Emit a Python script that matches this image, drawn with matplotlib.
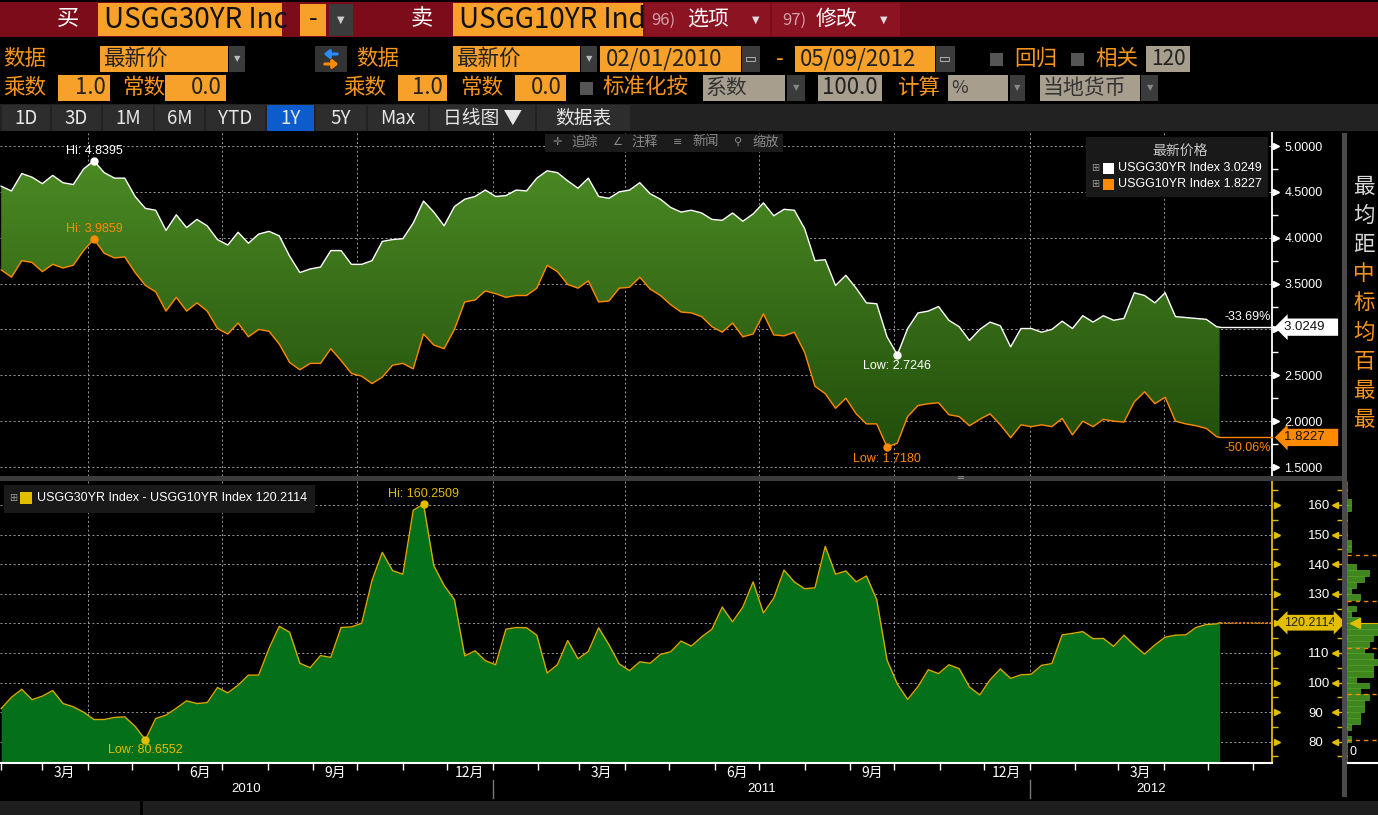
import numpy as np
import pandas as pd
import matplotlib
matplotlib.use('Agg')
import matplotlib.pyplot as plt
import matplotlib.dates as mdates
from matplotlib.patches import Rectangle, FancyArrowPatch
from matplotlib.colors import LinearSegmentedColormap
from matplotlib.ticker import MultipleLocator

# ============================================
# DATA (weekly samples)
# ============================================

dates = list(pd.date_range('2010-02-01', '2012-05-07', freq='7D')) + [pd.Timestamp('2012-05-09')]

usgg30 = [4.5617, 4.51, 4.70, 4.66, 4.59, 4.68, 4.60, 4.58, 4.75, 4.8395,
          4.71, 4.65, 4.65, 4.45, 4.32, 4.30, 4.08, 4.25, 4.11, 4.20,
          4.13, 3.98, 3.92, 4.06, 3.94, 4.04, 4.07, 4.02, 3.80, 3.62,
          3.66, 3.68, 3.86, 3.86, 3.71, 3.71, 3.75, 3.96, 3.98, 3.99,
          4.16, 4.40, 4.28, 4.13, 4.34, 4.42, 4.45, 4.52, 4.45, 4.46,
          4.52, 4.51, 4.65, 4.73, 4.71, 4.62, 4.54, 4.65, 4.45, 4.43,
          4.50, 4.52, 4.60, 4.48, 4.42, 4.33, 4.28, 4.30, 4.27, 4.20,
          4.19, 4.27, 4.18, 4.26, 4.38, 4.24, 4.31, 4.30, 4.10, 3.75,
          3.76, 3.48, 3.59, 3.45, 3.29, 3.28, 2.92, 2.7246, 3.01, 3.18,
          3.20, 3.25, 3.10, 3.03, 2.88, 3.00, 3.08, 3.04, 2.81, 3.01,
          3.01, 2.97, 3.00, 3.09, 3.01, 3.15, 3.08, 3.15, 3.10, 3.12,
          3.40, 3.37, 3.29, 3.40, 3.14, 3.13, 3.12, 3.11, 3.03, 3.0249]

usgg10 = [3.6498, 3.57, 3.75, 3.73, 3.63, 3.71, 3.67, 3.70, 3.86, 3.9859,
          3.83, 3.78, 3.79, 3.62, 3.48, 3.41, 3.20, 3.35, 3.20, 3.29,
          3.20, 3.01, 2.95, 3.07, 2.92, 3.00, 2.98, 2.84, 2.64, 2.56,
          2.63, 2.63, 2.79, 2.66, 2.52, 2.49, 2.41, 2.48, 2.61, 2.63,
          2.57, 2.95, 2.83, 2.79, 3.00, 3.30, 3.32, 3.42, 3.39, 3.35,
          3.37, 3.37, 3.45, 3.70, 3.63, 3.49, 3.45, 3.53, 3.30, 3.31,
          3.45, 3.46, 3.57, 3.44, 3.37, 3.27, 3.19, 3.18, 3.14, 3.03,
          2.97, 3.07, 2.92, 2.95, 3.17, 2.94, 2.93, 2.97, 2.75, 2.38,
          2.30, 2.14, 2.25, 2.08, 1.97, 1.97, 1.7180, 1.76, 2.05, 2.17,
          2.19, 2.20, 2.07, 2.05, 1.95, 2.02, 2.08, 1.96, 1.82, 1.96,
          1.94, 1.96, 1.94, 2.03, 1.85, 2.00, 1.94, 2.02, 2.00, 1.99,
          2.21, 2.32, 2.19, 2.26, 2.00, 1.97, 1.95, 1.92, 1.83, 1.8227]

spread = [91.19, 95.0, 97.7, 94.2, 95.4, 97.3, 92.9, 91.8, 90.0, 87.5,
          87.5, 88.2, 88.4, 85.2, 80.6552, 87.8, 89.0, 91.3, 93.8, 92.9,
          93.2, 98.3, 96.5, 99.1, 102.5, 102.5, 111.5, 119.0, 117.0, 106.5,
          105.0, 109.1, 108.5, 118.6, 118.8, 120.0, 134.5, 144.0, 137.8, 136.6,
          158.2, 160.2509, 139.5, 132.8, 128.0, 109.0, 110.7, 107.4, 106.0, 118.0,
          118.6, 118.5, 116.0, 103.2, 106.0, 114.2, 108.0, 110.5, 118.5, 112.8,
          106.3, 104.0, 107.0, 106.5, 109.5, 110.4, 114.0, 112.3, 115.4, 118.0,
          125.5, 120.5, 125.5, 134.0, 123.5, 128.5, 138.0, 134.0, 131.7, 132.0,
          146.0, 136.6, 137.7, 134.0, 136.0, 128.0, 107.6, 99.5, 94.3, 98.6,
          104.3, 103.0, 106.0, 104.7, 98.5, 95.8, 100.9, 104.6, 101.4, 102.6,
          102.8, 105.8, 106.4, 116.1, 116.6, 117.2, 114.8, 114.9, 112.2, 116.0,
          112.6, 109.6, 112.7, 115.3, 116.0, 116.1, 118.6, 119.6, 119.8, 120.2114]

top_ticks = [1.5, 2.0, 2.5, 3.0, 3.5, 4.0, 4.5, 5.0]
bot_ticks = [80, 90, 100, 110, 120, 130, 140, 150, 160]
side_chars = ['最', '均', '距', '中', '标', '均', '百', '最', '最']
buttons = ['1D', '3D', '1M', '6M', 'YTD', '1Y', '5Y', 'Max', '日线图 ▼', '数据表']

# ============================================
# STYLE
# ============================================

W, H = 1378, 815
FONT = ['Liberation Sans Narrow', 'Noto Sans CJK SC', 'DejaVu Sans']
NUM = ['Liberation Sans', 'Noto Sans CJK SC', 'DejaVu Sans']
CJK = ['Noto Sans CJK SC', 'DejaVu Sans']
SYM = ['DejaVu Sans']
plt.rcParams['font.family'] = FONT

RED = '#7c0c19'
BOX = '#f7a02a'
AMBER = '#f7961c'
BEIGE = '#a89e8e'
DROP = '#3b3b3b'
ORANGE = '#ff8a00'
YELLOW = '#e3bd00'

x = mdates.date2num(dates)
y30 = np.array(usgg30)
y10 = np.array(usgg10)
spr = np.array(spread)
t0 = mdates.date2num(pd.Timestamp('2010-02-01'))
xlo, xhi = t0 - 0.8, t0 + 863.6

fig = plt.figure(figsize=(W / 100, H / 100), dpi=100)
fig.patch.set_facecolor('black')


def fx(px):
    return px / W


def fy(py):
    return 1 - py / H


def rect(x0, y0, x1, y1, fc, z=1):
    fig.add_artist(Rectangle((fx(x0), fy(y1)), (x1 - x0) / W, (y1 - y0) / H,
                             transform=fig.transFigure, fc=fc, ec='none', zorder=z))


def label(px, py, s, color, size, ha='left', family=FONT, z=8, **kw):
    fig.text(fx(px), fy(py), s, color=color, fontsize=size, ha=ha, va='center',
             family=family, zorder=z, **kw)


def arrow(x0, x1, py, color):
    fig.add_artist(FancyArrowPatch((fx(x0), fy(py)), (fx(x1), fy(py)), transform=fig.transFigure,
                                   arrowstyle='-|>,head_length=3,head_width=2.5', lw=2.2,
                                   color=color, zorder=8))


# ============================================
# HEADER
# ============================================

rect(0, 2, W, 37, RED)
label(68, 19, '买', 'white', 16, ha='center', family=CJK)
rect(98, 3, 282, 36, BOX)
label(104, 20, 'USGG30YR Inc', '#111111', 20)
rect(300, 4, 326, 36, BOX)
label(313, 19, '-', '#111111', 18, ha='center')
rect(329, 4, 353, 36, DROP)
label(341, 20, '▼', '#cccccc', 7, ha='center', family=SYM)
label(422, 19, '卖', 'white', 16, ha='center', family=CJK)
rect(453, 3, 643, 36, BOX)
label(459, 20, 'USGG10YR Ind', '#111111', 20)
rect(645, 3, 770, 36, '#8c1322')
label(651, 20, '96)', '#d6a0a8', 12)
label(687, 19, '选项', 'white', 15, family=CJK)
label(752, 20, '▼', '#dddddd', 7, family=SYM)
rect(772, 3, 900, 36, '#8c1322')
label(782, 20, '97)', '#d6a0a8', 12)
label(816, 19, '修改', 'white', 15, family=CJK)
label(880, 20, '▼', '#dddddd', 7, family=SYM)

# second row
label(3, 59, '数据', AMBER, 15.5, family=CJK)
rect(100, 46, 228, 72, BOX)
label(103, 59, '最新价', '#222222', 15.5, family=CJK)
rect(229, 46, 245, 72, DROP)
label(237, 59, '▼', '#bbbbbb', 6, ha='center', family=SYM)
rect(315, 46, 347, 72, '#333333')
arrow(340, 321, 54, '#2a8cff')
arrow(322, 341, 64, ORANGE)
label(356, 59, '数据', AMBER, 15.5, family=CJK)
rect(453, 46, 580, 72, BOX)
label(456, 59, '最新价', '#222222', 15.5, family=CJK)
rect(581, 46, 597, 72, DROP)
label(589, 59, '▼', '#bbbbbb', 6, ha='center', family=SYM)
rect(600, 46, 741, 72, BOX)
label(606, 59, '02/01/2010', '#222222', 16)
rect(742, 46, 760, 72, DROP)
label(751, 59, '▭', '#cccccc', 9, ha='center', family=SYM)
label(780, 59, '-', AMBER, 16, ha='center')
rect(795, 46, 935, 72, BOX)
label(800, 59, '05/09/2012', '#222222', 16)
rect(936, 46, 955, 72, DROP)
label(945, 59, '▭', '#cccccc', 9, ha='center', family=SYM)
rect(990, 53, 1003, 66, '#555555')
label(1014, 59, '回归', AMBER, 15.5, family=CJK)
rect(1071, 53, 1084, 66, '#555555')
label(1095, 59, '相关', AMBER, 15.5, family=CJK)
rect(1146, 46, 1190, 72, BEIGE)
label(1168, 59, '120', '#222222', 15, ha='center')

# third row
label(3, 88, '乘数', AMBER, 15.5, family=CJK)
rect(58, 75, 110, 101, BOX)
label(106, 88, '1.0', '#222222', 16, ha='right')
label(122, 88, '常数', AMBER, 15.5, family=CJK)
rect(165, 75, 226, 101, BOX)
label(222, 88, '0.0', '#222222', 16, ha='right')
label(343, 88, '乘数', AMBER, 15.5, family=CJK)
rect(398, 75, 447, 101, BOX)
label(443, 88, '1.0', '#222222', 16, ha='right')
label(460, 88, '常数', AMBER, 15.5, family=CJK)
rect(515, 75, 566, 101, BOX)
label(562, 88, '0.0', '#222222', 16, ha='right')
rect(580, 82, 593, 95, '#555555')
label(603, 88, '标准化按', AMBER, 15.5, family=CJK)
rect(703, 75, 785, 101, BEIGE)
label(706, 88, '系数', '#333333', 15, family=CJK)
rect(787, 75, 805, 101, DROP)
label(796, 88, '▼', '#888888', 6, ha='center', family=SYM)
rect(818, 75, 882, 101, BEIGE)
label(850, 88, '100.0', '#222222', 16, ha='center')
label(897, 88, '计算', AMBER, 15.5, family=CJK)
rect(948, 75, 1008, 101, BEIGE)
label(951, 88, '%', '#333333', 13)
rect(1010, 75, 1025, 101, DROP)
label(1017, 88, '▼', '#888888', 6, ha='center', family=SYM)
rect(1040, 75, 1140, 101, BEIGE)
label(1043, 88, '当地货币', '#333333', 15, family=CJK)
rect(1141, 75, 1158, 101, DROP)
label(1150, 88, '▼', '#888888', 6, ha='center', family=SYM)

# range buttons
rect(0, 104, W, 131, '#222222')
edges = [2, 52, 103, 155, 206, 267, 316, 368, 430, 537, 630]
for i, b in enumerate(buttons):
    x0 = edges[i]
    x1 = edges[i + 1] - 2 if i < len(buttons) - 1 else edges[-1]
    if b == '数据表':
        x0 = 537
    rect(x0, 105, x1, 131, '#0c5ccc' if b == '1Y' else '#2d2d2d', z=2)
    label((x0 + x1) / 2, 118, b, '#e6e6e6', 13.5, ha='center')

# ============================================
# TOP PANEL: 30Y and 10Y yields
# ============================================

ax1 = fig.add_axes([0, fy(476), fx(1272), (476 - 133) / H])
ax1.set_facecolor('black')
ax1.plot(x, y30, color='white', lw=1.0, zorder=4)
ax1.plot(x, y10, color=ORANGE, lw=1.0, zorder=4)
ax1.plot([x[-1], xhi], [y30[-1], y30[-1]], color='white', lw=1.0, zorder=4, clip_on=False)
ax1.plot([x[-1], xhi], [y10[-1], y10[-1]], color=ORANGE, lw=1.0, zorder=4, clip_on=False)

band = ax1.fill_between(x, y10, y30, color='none', lw=0)
green = LinearSegmentedColormap.from_list('band', ['#224e0b', '#4b8a24'])
im = ax1.imshow(np.linspace(0, 1, 256).reshape(-1, 1), extent=[x[0], x[-1], 1.7, 4.85],
                origin='lower', aspect='auto', cmap=green, zorder=2)
im.set_clip_path(band.get_paths()[0], ax1.transData)
ax1.set_xlim(xlo, xhi)
ax1.set_ylim(1.402, 5.142)

ax1.xaxis.set_major_locator(mdates.MonthLocator(bymonth=[1, 4, 7, 10]))
ax1.xaxis.set_minor_locator(mdates.MonthLocator())
ax1.tick_params(axis='x', which='both', length=0, labelbottom=False)
ax1.yaxis.tick_right()
# the last-value tags cover the tick label they sit on
ax1.set_yticks(top_ticks, [f'{t:.4f}' if min(abs(t - y30[-1]), abs(t - y10[-1])) > 0.1 else ''
                           for t in top_ticks])
ax1.yaxis.set_minor_locator(MultipleLocator(0.25))
ax1.tick_params(axis='y', which='major', length=0, pad=9, labelcolor='white', labelsize=9)
ax1.tick_params(axis='y', which='minor', length=4, width=1, color='white')
for t in ax1.get_yticklabels():
    t.set_family(NUM)
ax1.grid(True, which='major', color='#9a9a9a', ls=(0, (2, 2.5)), lw=0.7)
for s in ['left', 'top', 'bottom']:
    ax1.spines[s].set_visible(False)
ax1.spines['right'].set_color('white')
ax1.spines['right'].set_linewidth(1.3)
ax1.plot(np.full(len(top_ticks), 1.003), top_ticks, ls='none', marker='>', ms=5,
         color='white', transform=ax1.get_yaxis_transform(), clip_on=False)

# high / low markers
for ser, col in [(y30, 'white'), (y10, ORANGE)]:
    i = int(np.argmax(ser))
    ax1.plot(x[i], ser[i], 'o', color=col, ms=5, zorder=6)
    ax1.annotate(f'Hi: {ser[i]:.4f}', (x[i], ser[i]), xytext=(0, 3), textcoords='offset points',
                 ha='center', va='bottom', color=col, fontsize=9, family=NUM, zorder=6)
    j = int(np.argmin(ser))
    ax1.plot(x[j], ser[j], 'o', color=col, ms=5, zorder=6)
    ax1.annotate(f'Low: {ser[j]:.4f}', (x[j], ser[j]), xytext=(0, -4), textcoords='offset points',
                 ha='center', va='top', color=col, fontsize=9, family=NUM, zorder=6)

# change since start and last-value tags
for ser, col, dy, va, fc in [(y30, 'white', 3, 'bottom', 'white'), (y10, ORANGE, -3, 'top', ORANGE)]:
    pct = (ser[-1] / ser[0] - 1) * 100
    ax1.annotate(f'{pct:.2f}%', (xhi, ser[-1]), xytext=(-1, dy), textcoords='offset points',
                 ha='right', va=va, color=col, fontsize=9, family=NUM)
    ax1.text(1.0095, ser[-1], f'{ser[-1]:.4f}   ', transform=ax1.get_yaxis_transform(),
             ha='left', va='center', color='#111111', fontsize=9.5, family=NUM, clip_on=False,
             zorder=7, bbox=dict(boxstyle='larrow,pad=0.2', fc=fc, ec='none'))

# ============================================
# BOTTOM PANEL: spread
# ============================================

ax2 = fig.add_axes([0, fy(763), fx(1272), (763 - 481) / H])
ax2.set_facecolor('black')
ax2.fill_between(x, spr, 0, color='#05701a', lw=0, zorder=2)
ax2.plot(x, spr, color='#d6aa00', lw=1, zorder=3)
ax2.plot([x[-1], xhi], [spr[-1], spr[-1]], color=ORANGE, lw=1.1, ls=(0, (1.5, 1)), zorder=3)
ax2.set_xlim(xlo, xhi)
ax2.set_ylim(72.8, 168.1)

ax2.xaxis.set_major_locator(mdates.MonthLocator(bymonth=[1, 4, 7, 10]))
ax2.xaxis.set_minor_locator(mdates.MonthLocator())
ax2.tick_params(axis='x', which='both', direction='out', length=5, width=1, color='white',
                labelbottom=False)
ax2.yaxis.tick_right()
ax2.set_yticks(bot_ticks, [f'{t:d}' if abs(t - spr[-1]) > 4 else '' for t in bot_ticks])
ax2.yaxis.set_minor_locator(MultipleLocator(5))
ax2.tick_params(axis='y', which='major', length=0, pad=26, labelcolor='white', labelsize=9.5)
ax2.tick_params(axis='y', which='minor', length=4, width=1, color=YELLOW)
for t in ax2.get_yticklabels():
    t.set_family(NUM)
ax2.grid(True, which='major', color='#9a9a9a', ls=(0, (2, 2.5)), lw=0.7)
ax2.spines['left'].set_visible(False)
ax2.spines['top'].set_visible(False)
ax2.spines['right'].set_color(YELLOW)
ax2.spines['right'].set_linewidth(1.3)
ax2.spines['bottom'].set_color('white')
ax2.spines['bottom'].set_linewidth(1.5)
ax2.plot(np.full(len(bot_ticks), 1.004), bot_ticks, ls='none', marker='>', ms=5,
         color=YELLOW, transform=ax2.get_yaxis_transform(), clip_on=False)

i = int(np.argmax(spr))
ax2.plot(x[i], spr[i], 'o', color=YELLOW, ms=5, zorder=6)
ax2.annotate(f'Hi: {spr[i]:.4f}', (x[i], spr[i]), xytext=(0, 3), textcoords='offset points',
             ha='center', va='bottom', color=YELLOW, fontsize=9, family=NUM)
j = int(np.argmin(spr))
ax2.plot(x[j], spr[j], 'o', color=YELLOW, ms=5, zorder=6)
ax2.annotate(f'Low: {spr[j]:.4f}', (x[j], spr[j]), xytext=(0, -3), textcoords='offset points',
             ha='center', va='top', color=YELLOW, fontsize=9, family=NUM)
ax2.text(1.0095, spr[-1], f'{spr[-1]:.4f}', transform=ax2.get_yaxis_transform(),
         ha='left', va='center', color='#222222', fontsize=9, family=NUM, clip_on=False,
         zorder=7, bbox=dict(boxstyle='darrow,pad=0.15', fc=YELLOW, ec='none'))

# month and year labels
for d in pd.date_range('2010-03-01', '2012-05-01', freq='MS'):
    if d.month in (3, 6, 9, 12):
        ax2.text(mdates.date2num(d + pd.Timedelta(days=15)), -0.035, f'{d.month}月',
                 transform=ax2.get_xaxis_transform(), ha='center', va='center',
                 color='white', fontsize=10, family=CJK)
for yr in (2010, 2011, 2012):
    a = max(mdates.date2num(pd.Timestamp(f'{yr}-01-01')), xlo)
    b = min(mdates.date2num(pd.Timestamp(f'{yr + 1}-01-01')), xhi)
    ax2.text((a + b) / 2, -0.093, str(yr), transform=ax2.get_xaxis_transform(),
             ha='center', va='center', color='white', fontsize=9.5, family=NUM)
    if yr > 2010:
        ax2.plot([a, a], [-0.06, -0.125], color='#777777', lw=1,
                 transform=ax2.get_xaxis_transform(), clip_on=False)

# ============================================
# DISTRIBUTION OF THE SPREAD (right strip)
# ============================================

ax3 = fig.add_axes([fx(1347), fy(763), fx(31), (763 - 481) / H])
ax3.set_facecolor('black')
counts, bins = np.histogram(spr, bins=np.arange(72, 170, 2))
ax3.barh(bins[:-1] + 1, counts, height=2, color='#3f861e', edgecolor='#56a52e', lw=0.5)
ax3.set_ylim(72.8, 168.1)
ax3.set_xlim(0, counts.max() * 0.65)
mu, sd = spr.mean(), spr.std()
for k in (-2, -1, 0, 1, 2):
    ax3.axhline(mu + k * sd, color=ORANGE, ls=(0, (3, 3)), lw=1)
ax3.axhline(spr[-1], xmin=0.2, color=YELLOW, lw=0.8)
ax3.plot(0.25, spr[-1], marker='<', ms=7, color=YELLOW, transform=ax3.get_yaxis_transform())
ax3.set_xticks([])
ax3.set_yticks([])
ax3.yaxis.set_minor_locator(MultipleLocator(5))
ax3.tick_params(axis='y', which='minor', direction='out', length=7, width=1, color=YELLOW)
for s in ['left', 'top', 'right']:
    ax3.spines[s].set_visible(False)
ax3.spines['bottom'].set_color('white')
ax3.spines['bottom'].set_linewidth(1.5)
ax3.plot(np.full(len(bot_ticks), -0.38), bot_ticks, ls='none', marker='<', ms=5,
         color=YELLOW, transform=ax3.get_yaxis_transform(), clip_on=False)
label(1350, 752, '0', 'white', 9, family=NUM)

# ============================================
# FRAME DECORATIONS
# ============================================

rect(0, 476, 1345, 481, '#3c3c3c', z=5)
label(960, 478, '═', '#9a9a9a', 7, ha='center', family=SYM)
rect(1342, 133, 1347, 797, '#4a4a4a', z=5)
rect(0, 801, W, 815, '#1e1e1e', z=5)
rect(140, 801, 143, 815, 'black', z=6)

# side text of the top panel
for k, ch in enumerate(side_chars):
    label(1364, 187 + k * 29.1, ch, '#d8d8d8' if k < 3 else AMBER, 15.5, ha='center', family=CJK)

# chart toolbar
rect(545, 134, 783, 152, '#1b1b1b', z=6)
for px, icon, name in [(557, '✛', '追踪'), (617, '∠', '注释'), (678, '≡', '新闻'), (738, '⚲', '缩放')]:
    label(px, 142, icon, '#8a8a8a', 8, ha='center', family=SYM)
    label(px + 14, 142, name, '#8a8a8a', 9.5, family=CJK)

# top legend
rect(1086, 137, 1268, 197, '#191919', z=6)
label(1180, 151, '最新价格', '#c8c8c8', 10, ha='center', family=CJK)
for py, col, name, ser in [(168, 'white', 'USGG30YR Index', y30), (184, ORANGE, 'USGG10YR Index', y10)]:
    label(1095, py, '⊞', '#9a9a9a', 7, ha='center', family=SYM)
    rect(1103, py - 5, 1114, py + 6, col, z=7)
    label(1118, py, f'{name} {ser[-1]:.4f}', 'white', 9, family=NUM)

# bottom legend
rect(4, 485, 315, 513, '#191919', z=6)
label(13, 498, '⊞', '#9a9a9a', 7, ha='center', family=SYM)
rect(20, 492, 32, 504, YELLOW, z=7)
label(37, 498, f'USGG30YR Index - USGG10YR Index {spr[-1]:.4f}', 'white', 9, family=NUM)

fig.savefig('out.png', dpi=100, facecolor='black')
